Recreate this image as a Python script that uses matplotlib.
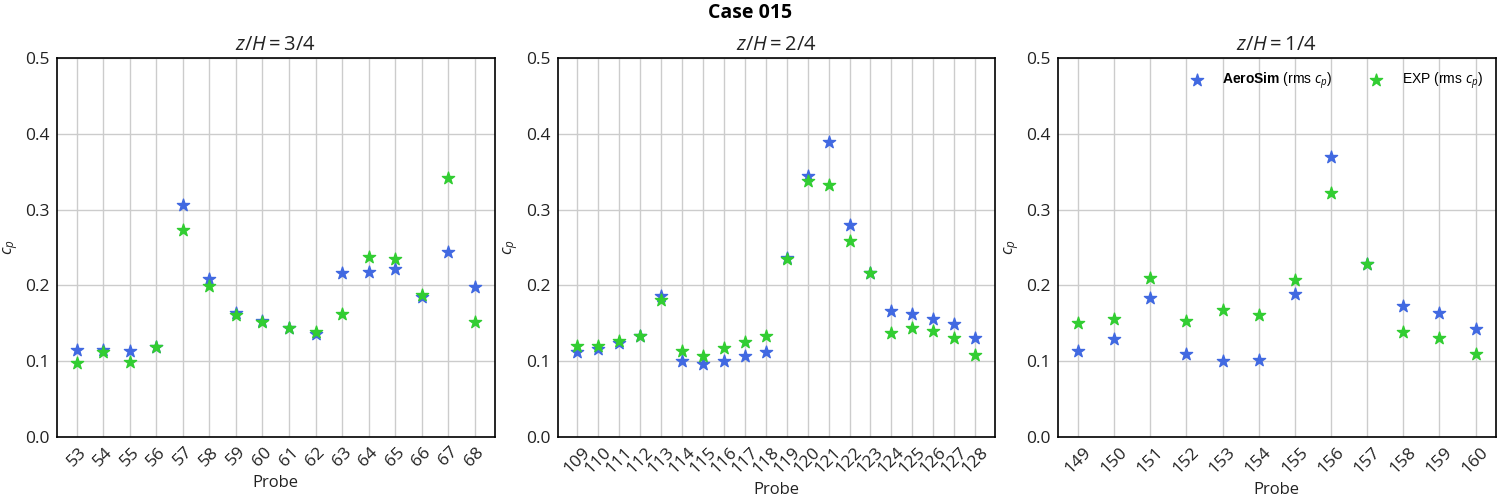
import numpy as np
import matplotlib
matplotlib.use("Agg")
import matplotlib.pyplot as plt

# probes and rms cp values per height level
probes_34 = [str(p) for p in range(53, 69)]
aerosim_34 = [0.115, 0.115, 0.113, 0.119, 0.306, 0.208, 0.164, 0.153,
              0.144, 0.136, 0.216, 0.218, 0.222, 0.185, 0.244, 0.198]
exp_34 = [0.098, 0.112, 0.099, 0.119, 0.273, 0.199, 0.161, 0.152,
          0.144, 0.138, 0.162, 0.237, 0.235, 0.187, 0.342, 0.152]

probes_24 = [str(p) for p in range(109, 129)]
aerosim_24 = [0.112, 0.116, 0.124, 0.133, 0.186, 0.100, 0.096, 0.100, 0.107, 0.112,
              0.236, 0.344, 0.389, 0.280, 0.216, 0.166, 0.162, 0.156, 0.149, 0.131]
exp_24 = [0.120, 0.120, 0.127, 0.133, 0.181, 0.113, 0.107, 0.117, 0.125, 0.133,
          0.235, 0.338, 0.333, 0.259, 0.216, 0.137, 0.144, 0.140, 0.131, 0.108]

probes_14 = [str(p) for p in range(149, 161)]
aerosim_14 = [0.113, 0.129, 0.183, 0.110, 0.100, 0.102, 0.189, 0.369,
              0.228, 0.173, 0.164, 0.142]
exp_14 = [0.150, 0.156, 0.210, 0.153, 0.168, 0.161, 0.207, 0.322,
          0.228, 0.139, 0.131, 0.109]

levels = ["3/4", "2/4", "1/4"]

plt.rcParams["font.family"] = ["Open Sans", "DejaVu Sans"]
plt.rcParams["mathtext.fontset"] = "custom"
plt.rcParams["mathtext.rm"] = "Open Sans"
plt.rcParams["mathtext.it"] = "Open Sans:italic"
plt.rcParams["mathtext.bf"] = "Liberation Sans:bold"

C_SIM = "#4169e1"
C_EXP = "#32cd32"

fig, axes = plt.subplots(1, 3, figsize=(15, 5), dpi=100)
fig.subplots_adjust(left=0.038, right=0.997, top=0.884, bottom=0.126, wspace=0.144)

data = [(probes_34, aerosim_34, exp_34),
        (probes_24, aerosim_24, exp_24),
        (probes_14, aerosim_14, exp_14)]

for ax, lvl, (pr, sim, exp) in zip(axes, levels, data):
    ax.scatter(pr, sim, marker="*", s=85, color=C_SIM, zorder=3,
               label=r"$\bf{AeroSim}$ (rms $c_p$)")
    ax.scatter(pr, exp, marker="*", s=85, color=C_EXP, zorder=3,
               label=r"EXP (rms $c_p$)")
    ax.set_ylim(0, 0.5)
    ax.set_yticks(np.arange(0, 0.51, 0.1))
    ax.set_facecolor("white")
    ax.grid(True, color="#cccccc", linewidth=1.0)
    ax.set_axisbelow(True)
    for sp in ax.spines.values():
        sp.set_color("black")
        sp.set_linewidth(1.2)
    ax.tick_params(axis="both", length=0, labelsize=12.5, colors="#222222", pad=5)
    ax.tick_params(axis="x", rotation=45)
    ax.set_title(rf"$z/H = {lvl}$", fontsize=14.5, color="#222222")
    ax.set_xlabel("Probe", fontsize=12, color="#222222")
    ax.set_ylabel(r"$c_p$", fontsize=12, color="#222222")

leg = axes[2].legend(loc="upper right", ncol=2, frameon=False,
                     prop={"family": ["Liberation Sans"], "size": 10},
                     columnspacing=2.1, handletextpad=0.85)

fig.suptitle("Case 015", fontsize=14, fontweight="bold", y=0.995)

fig.savefig("out.png", dpi=100, facecolor="white")
